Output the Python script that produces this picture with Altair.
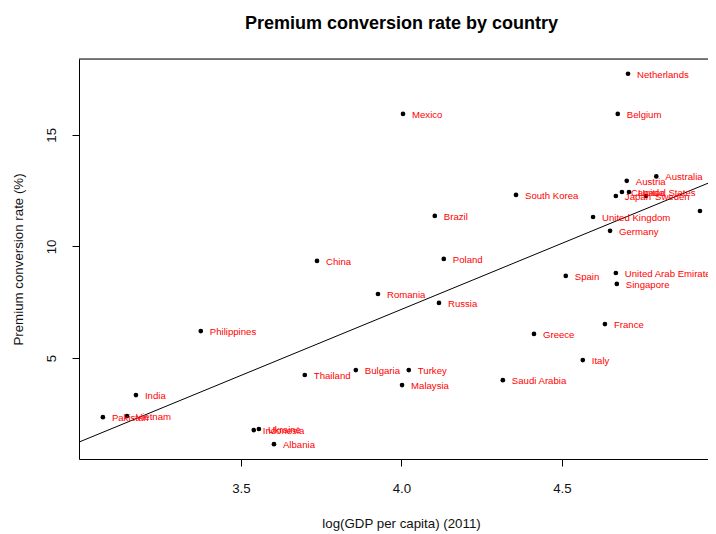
import altair as alt
import pandas as pd

countries = ["Netherlands", "Mexico", "Belgium", "Australia", "Austria", "Canada",
             "United States", "Japan", "Sweden", "South Korea", "Switzerland", "Brazil",
             "United Kingdom", "Germany", "China", "Poland", "United Arab Emirates", "Spain",
             "Singapore", "Romania", "Russia", "France", "Greece", "Philippines", "Italy",
             "Thailand", "Bulgaria", "Turkey", "Malaysia", "Saudi Arabia", "India",
             "Pakistan", "Vietnam", "Indonesia", "Ukraine", "Albania"]
log_gdp = [4.706, 4.005, 4.674, 4.794, 4.702, 4.687,
           4.709, 4.668, 4.762, 4.357, 4.930, 4.104,
           4.597, 4.650, 3.737, 4.132, 4.668, 4.512,
           4.671, 3.927, 4.117, 4.634, 4.413, 3.375, 4.565,
           3.699, 3.858, 4.023, 4.002, 4.316, 3.173,
           3.070, 3.145, 3.540, 3.556, 3.603]
conversion = [17.74, 15.94, 15.94, 13.14, 12.94, 12.44,
              12.44, 12.26, 12.26, 12.31, 11.59, 11.37,
              11.32, 10.70, 9.35, 9.44, 8.81, 8.68,
              8.32, 7.87, 7.47, 6.52, 6.08, 6.21, 4.91,
              4.24, 4.46, 4.46, 3.79, 4.01, 3.34,
              2.35, 2.40, 1.77, 1.82, 1.14]

# regression line (as drawn by abline)
fit_intercept = -16.50
fit_slope = 5.92

# visible part of the plotting region (the reference is cropped at the right)
x_domain = [2.9956, 4.9551]
y_domain = [0.476, 18.40]
x_ticks = [3.5, 4.0, 4.5]
y_ticks = [5, 10, 15]

df = pd.DataFrame({"country": countries, "x": log_gdp, "y": conversion})
line_df = pd.DataFrame({"x": x_domain,
                        "y": [fit_intercept + fit_slope * v for v in x_domain]})

FONT = "Liberation Sans"
W, H = 629, 400

xs = alt.Scale(domain=x_domain, nice=False, zero=False)
ys = alt.Scale(domain=y_domain, nice=False, zero=False)

x_axis = alt.Axis(values=x_ticks, format=".1f", title="log(GDP per capita) (2011)",
                  grid=False, domain=True, domainColor="black", domainWidth=1,
                  tickSize=7, tickColor="black",
                  labelFontSize=13.3, labelColor="#111", labelFont=FONT,
                  labelPadding=15, labelBaseline="top",
                  titleFontSize=13.3, titleFont=FONT, titleFontWeight="normal",
                  titleColor="#111", titleX=322, titleY=64, titleBaseline="middle",
                  titleAlign="center")
y_axis = alt.Axis(values=y_ticks, title="Premium conversion rate (%)",
                  grid=False, domain=True, domainColor="black", domainWidth=1,
                  tickSize=7, tickColor="black",
                  labelFontSize=13.3, labelColor="#111", labelFont=FONT,
                  labelAngle=270, labelAlign="center", labelBaseline="bottom",
                  labelPadding=14,
                  titleFontSize=13.3, titleFont=FONT, titleFontWeight="normal",
                  titleColor="#111", titleAngle=270, titleX=-61, titleY=200,
                  titleAlign="center", titleBaseline="middle")

base = alt.Chart(df)

frame_top = alt.Chart(pd.DataFrame({"k": [0]})).mark_rule(
    color="black", strokeWidth=1).encode(
    x=alt.value(0), x2=alt.value(W), y=alt.value(0)
)
pts = base.mark_circle(color="black", opacity=1, size=22, clip=True).encode(
    x=alt.X("x:Q", scale=xs, axis=x_axis),
    y=alt.Y("y:Q", scale=ys, axis=y_axis),
)
labels = base.mark_text(align="left", baseline="middle", dx=9, dy=1, fontSize=9.6,
                        font=FONT, color="#ff0000", clip=True).encode(
    x="x:Q", y="y:Q", text="country:N"
)
line = alt.Chart(line_df).mark_line(color="black", strokeWidth=1, clip=True).encode(
    x="x:Q", y="y:Q"
)

chart = alt.layer(line, pts, labels, frame_top).properties(
    width=W, height=H,
    title=alt.TitleParams("Premium conversion rate by country", fontSize=18,
                          font=FONT, fontWeight="bold", color="black",
                          anchor="middle", offset=26, dx=8),
    autosize=alt.AutoSizeParams(type="none"),
    padding={"left": 71, "top": 51, "right": 0, "bottom": 75},
).configure_view(stroke=None).configure(background="white")

chart.save("out.html", embed_options={"renderer": "svg", "actions": False})
